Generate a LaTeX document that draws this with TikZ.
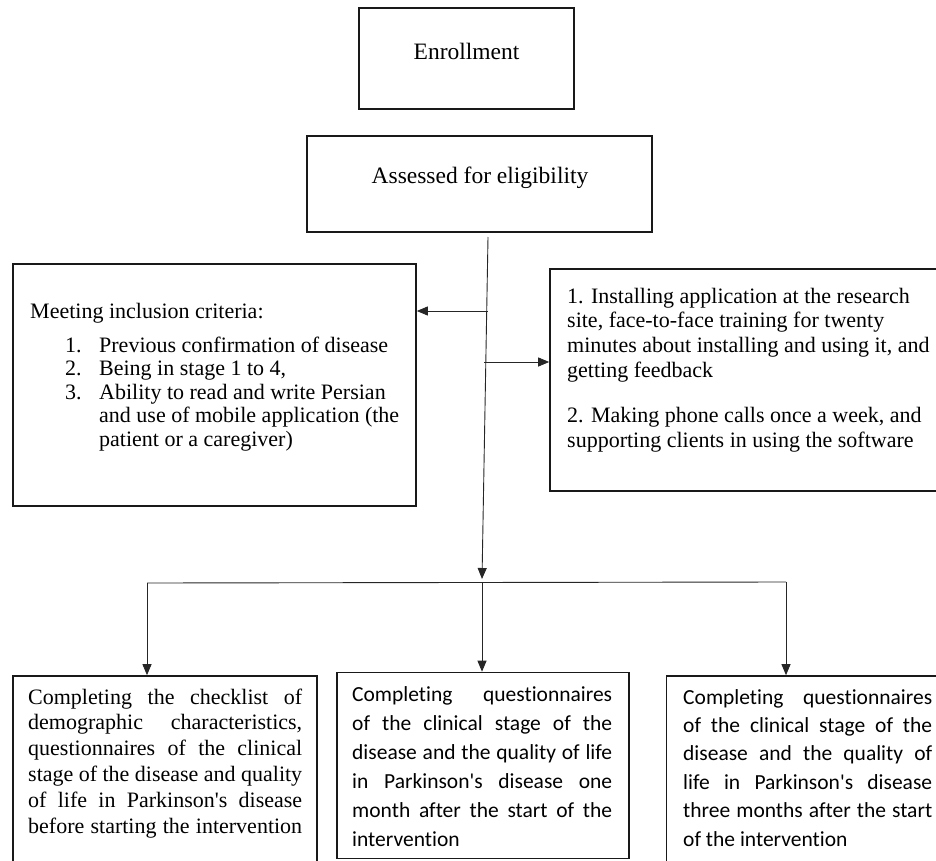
\documentclass[tikz,border=0pt]{standalone}
\usepackage{fontspec}
\setmainfont{Liberation Serif}
\newfontfamily\calfont[Ligatures={NoCommon}]{Carlito}
\usetikzlibrary{arrows.meta,calc}
\newcommand{\jline}[1]{\makebox[\hsize][s]{#1}\par}
\begin{document}
\begin{tikzpicture}[x=1pt,y=-1pt,
  box/.style={draw=black!90,line width=1.6pt,inner sep=0pt,rectangle},
  conn/.style={draw=black!85,line width=0.9pt},
  arr/.style={conn,-{Triangle[length=11pt,width=9pt]}},
  txt/.style={inner sep=0pt,anchor=base west},
  ctxt/.style={inner sep=0pt,anchor=base}]
\useasboundingbox (0,0) rectangle (936,861);
\clip (0,0) rectangle (936,861);

% boxes
\node[box,minimum width=215pt,minimum height=101pt] (enr) at (466.5,58.5) {};
\node[box,minimum width=345pt,minimum height=96pt] (ass) at (479.5,184) {};
\node[box,minimum width=403pt,minimum height=242pt] (lbox) at (214.5,385) {};
\node[box,minimum width=430pt,minimum height=222pt] (rbox) at (765,380) {};
\node[box,minimum width=304pt,minimum height=224pt] (bl) at (165,788) {};
\node[box,minimum width=292pt,minimum height=186pt] (bm) at (483,765.5) {};
\node[box,minimum width=313pt,minimum height=224pt] (br) at (823,788) {};

% texts
\node[ctxt] (enrT) at (466.5,60) {\fontsize{23.5}{28}\selectfont Enrollment};
\node[ctxt] (assT) at (480,183) {\fontsize{23.5}{28}\selectfont Assessed for eligibility};

\node[txt] (lT) at (30,318) {\vtop{\hsize=600pt\parindent=0pt\parskip=0pt\fontsize{22}{23.5}\selectfont
Meeting inclusion criteria:\par\vskip 10.5pt
\hspace*{35pt}\makebox[34pt][l]{1.}Previous confirmation of disease\par
\hspace*{35pt}\makebox[34pt][l]{2.}Being in stage 1 to 4,\par
\hspace*{35pt}\makebox[34pt][l]{3.}Ability to read and write Persian\par
\hspace*{69pt}and use of mobile application (the\par
\hspace*{69pt}patient or a caregiver)\par}};

\node[txt] (rT) at (567,303) {\vtop{\hsize=600pt\parindent=0pt\parskip=0pt\fontsize{22}{24.7}\selectfont
1. Installing application at the research\par
site, face-to-face training for twenty\par
minutes about installing and using it, and\par
getting feedback\par\vskip 21pt
2. Making phone calls once a week, and\par
supporting clients in using the software\par}};

\node[txt] (blT) at (28,704) {\vtop{\hsize=274pt\parindent=0pt\parskip=0pt\fontsize{22}{25.8}\selectfont
\jline{Completing the checklist of}
\jline{demographic characteristics,}
\jline{questionnaires of the clinical}
\jline{stage of the disease and quality}
\jline{of life in Parkinson\textquotesingle s disease}
\jline{before starting the intervention}}};

\node[txt] (bmT) at (352,701) {\vtop{\hsize=260pt\parindent=0pt\parskip=0pt\calfont\fontsize{21.5}{29}\selectfont
\jline{Completing questionnaires}
\jline{of the clinical stage of the}
\jline{disease and the quality of life}
\jline{in Parkinson\textquotesingle s disease one}
\jline{month after the start of the}
intervention\par}};

\node[txt] (brT) at (683,704) {\vtop{\hsize=249pt\parindent=0pt\parskip=0pt\calfont\fontsize{21.5}{28.4}\selectfont
\jline{Completing questionnaires}
\jline{of the clinical stage of the}
\jline{disease and the quality of}
\jline{life in Parkinson\textquotesingle s disease}
\jline{three months after the start}
of the intervention\par}};

% connectors
\coordinate (tTop) at (488,237);
\coordinate (tBot) at (482,579);
\coordinate (hM) at (482,583);
\coordinate (hL) at (147,583);
\coordinate (hR) at (786,582);
\coordinate (brL) at (487.5,311);
\coordinate (brR) at (484,362);
\draw[arr] (tTop) -- (tBot);
\draw[arr] (brL) -- (brL -| lbox.east);
\draw[arr] (brR) -- (brR -| rbox.west);
\draw[conn] (hL) -- (hR);
\draw[arr] (hL) -- (hL |- bl.north);
\draw[arr] (hM) -- (hM |- bm.north);
\draw[arr] (hR) -- (hR |- br.north);
\end{tikzpicture}
\end{document}
